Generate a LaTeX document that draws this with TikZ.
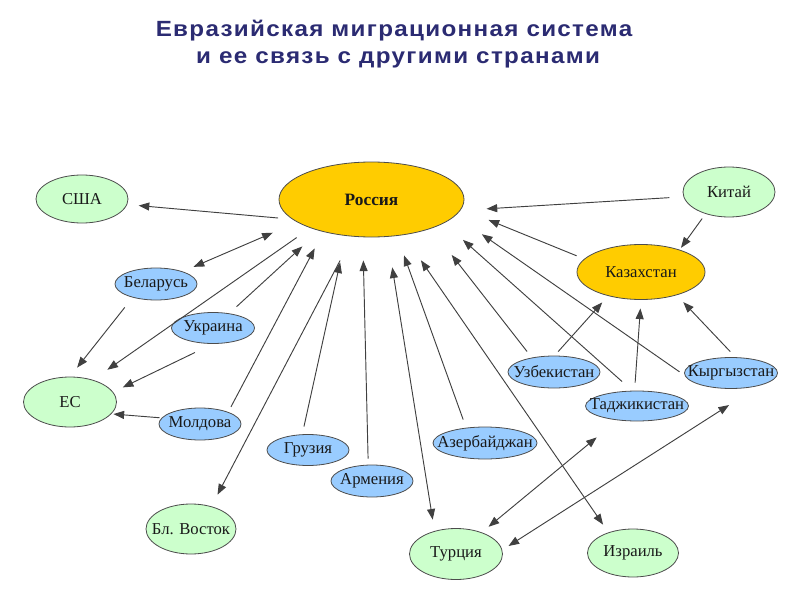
\documentclass[tikz,border=0pt]{standalone}
\usepackage{fontspec}
\setmainfont{Liberation Serif}
\newfontfamily\titlefont{Liberation Sans}[FakeStretch=1.1, LetterSpace=6]
\usetikzlibrary{shapes.geometric,arrows.meta}
\definecolor{gold}{HTML}{FFCC00}
\definecolor{mint}{HTML}{CCFFCC}
\definecolor{sky}{HTML}{99CCFF}
\definecolor{navy}{HTML}{2B2B72}

\begin{document}
\begin{tikzpicture}[x=0.75pt, y=-0.75pt,
	land/.style={ellipse, draw=black!70, line width=0.6pt, inner xsep=-12pt, inner ysep=0pt, text=black!90, font=\fontsize{12.5}{14}\selectfont},
	hub/.style={land, fill=gold},
	far/.style={land, fill=mint, minimum width=69pt, minimum height=37.5pt},
	near/.style={land, fill=sky, minimum width=61.5pt, minimum height=24pt},
	flow/.style={draw=black!75, line width=0.7pt, >={Triangle[length=8pt,width=6pt]}},
	heading/.style={text=navy, font=\titlefont\bfseries\fontsize{16.5}{20}\selectfont}]
		\useasboundingbox (0,0) rectangle (800,592);
		\node[heading, anchor=base] (title1) at (394,37) {Евразийская миграционная система};
		\node[heading, anchor=base] (title2) at (398,64) {и ее связь с другими странами};
		\node[hub, minimum width=138.75pt, minimum height=56.25pt, font=\bfseries\fontsize{13}{15}\selectfont] (ru) at (371.5,199.5) {Россия};
		\node[hub, minimum width=96pt, minimum height=41.25pt] (kz) at (641,272) {Казахстан};
		\node[far, minimum height=36pt] (usa) at (82,199) {США};
		\node[far] (cn) at (729,192) {Китай};
		\node[far, minimum width=69.75pt] (eu) at (70,402) {ЕС};
		\node[far, minimum width=67.5pt] (bv) at (191,529) {Бл. Восток};
		\node[far, minimum width=69.75pt, minimum height=38.25pt] (tr) at (456,554) {Турция};
		\node[far, minimum width=68.25pt, minimum height=36pt] (il) at (633,553) {Израиль};
		\node[near] (by) at (156,284) {Беларусь};
		\node[near, minimum width=62.25pt, minimum height=23.25pt] (ua) at (213,328) {Украина};
		\node[near] (md) at (200,424) {Молдова};
		\node[near, minimum height=23.25pt] (ge) at (308,450) {Грузия};
		\node[near] (am) at (372,481) {Армения};
		\node[near, minimum width=78pt] (az) at (485,443) {Азербайджан};
		\node[near, minimum width=69pt] (uz) at (554,372) {Узбекистан};
		\node[near, minimum width=77.25pt, minimum height=22.5pt] (tj) at (637,406) {Таджикистан};
		\node[near, minimum width=69.75pt, minimum height=23.25pt] (kg) at (731,373) {Кыргызстан};
		\foreach \from/\to/\s/\t in {
			ru.-166.9/usa.-7.8/10.7pt/8.6pt,
			ru.-155.7/eu.44/12.5pt/13.2pt,
			ua.42.2/ru.-149.6/7.4pt/17.3pt,
			by.-150.5/eu.90/9.4pt/8.6pt,
			ua.-91.1/eu.13.8/14.8pt/8pt,
			md.171.3/eu.-16.1/1.4pt/1.5pt,
			md.23.7/ru.-146.1/4.3pt/14pt,
			ru.-117.4/bv.48.4/20.2pt/9.8pt,
			ge.110.2/ru.-125.5/5.9pt/20.3pt,
			am.103.6/ru.-103.7/4.6pt/17.4pt,
			az.141.9/ru.-55.9/6.5pt/15.5pt,
			uz.147.8/ru.-26.9/5.8pt/25.1pt,
			tj.107.9/ru.-18.4/10.3pt/18.9pt,
			kg.183.1/ru.-11.9/4.7pt/24.2pt,
			kz.167.1/ru.-6.1/6.1pt/21.9pt,
			cn.186.5/ru.-7.9/10.5pt/19.6pt,
			cn.-137.8/kz.30.5/4.3pt/1.7pt,
			uz.88.2/kz.-144.8/4pt/6.5pt,
			tj.99.5/kz.-90.9/6pt/6.4pt,
			kg.74.3/kz.-33.9/5.8pt/7.1pt}
			\draw[flow, ->, shorten <=\s, shorten >=\t] (\from) -- (\to);
		\foreach \from/\to/\s/\t in {
			by.25/ru.-163.9/8.8pt/19.9pt,
			ru.-67.2/tr.133/23.2pt/8.6pt,
			ru.-48.6/il.140.6/23pt/7.1pt,
			tr.40.3/tj.-144.2/6.6pt/20.1pt,
			tr.5.1/kg.-24.8/5.5pt/27pt}
			\draw[flow, <->, shorten <=\s, shorten >=\t] (\from) -- (\to);
	\end{tikzpicture}
\end{document}
